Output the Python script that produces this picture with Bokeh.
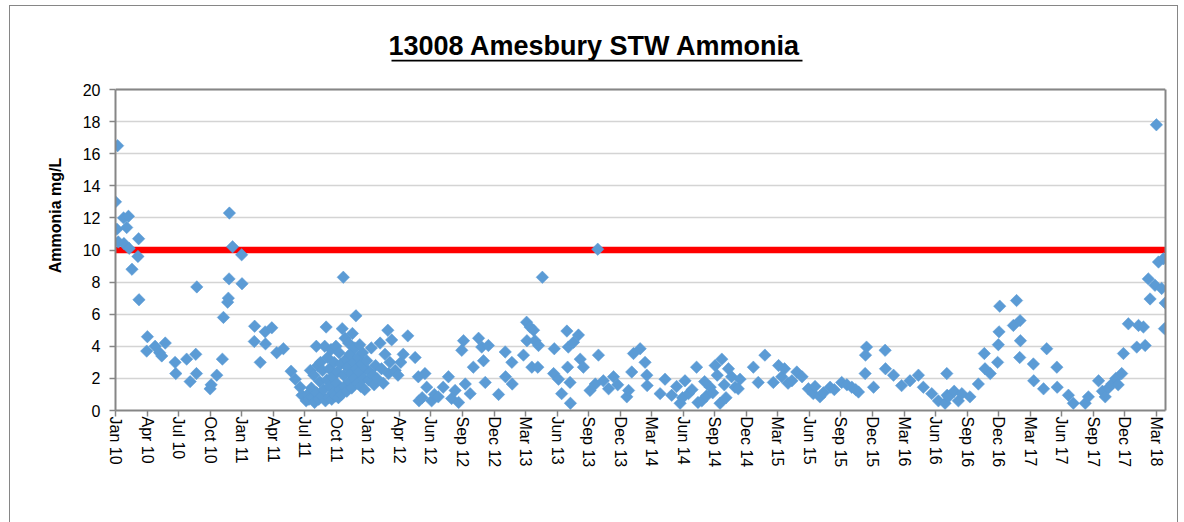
import numpy as np
import pandas as pd
from bokeh.plotting import figure
from bokeh.models import (Range1d, FixedTicker, DatetimeTickFormatter, Span,
                          BoxAnnotation, ColumnDataSource, Label, LinearAxis)
from bokeh.embed import file_html
from bokeh.resources import INLINE

# ---------------- data ----------------
sample_dates = [
    "2010-01-12", "2010-01-16", "2010-01-18", "2010-01-20", "2010-02-04", "2010-02-05",
    "2010-02-13", "2010-02-18", "2010-02-20", "2010-02-28", "2010-03-17", "2010-03-19",
    "2010-03-20", "2010-04-11", "2010-04-13", "2010-05-05", "2010-05-18", "2010-05-24",
    "2010-06-03", "2010-07-01", "2010-07-03", "2010-08-03", "2010-08-13", "2010-08-29",
    "2010-08-31", "2010-09-01", "2010-10-09", "2010-10-12", "2010-10-28", "2010-11-13",
    "2010-11-16", "2010-11-28", "2010-11-30", "2010-12-02", "2010-12-03", "2010-12-12",
    "2011-01-07", "2011-01-08", "2011-02-12", "2011-02-13", "2011-03-01", "2011-03-15",
    "2011-03-16", "2011-04-03", "2011-04-17", "2011-05-06", "2011-05-28", "2011-06-09",
    "2011-06-23", "2011-06-28",
    "2011-07-10", "2011-07-14", "2011-07-18", "2011-07-22", "2011-07-25", "2011-07-28",
    "2011-08-01", "2011-08-03", "2011-08-08", "2011-08-09", "2011-08-12", "2011-08-15",
    "2011-08-18", "2011-08-20", "2011-08-23", "2011-08-26", "2011-08-29", "2011-09-01",
    "2011-09-03", "2011-09-05", "2011-09-07", "2011-09-09", "2011-09-12", "2011-09-14",
    "2011-09-16", "2011-09-19", "2011-09-21", "2011-09-23", "2011-09-26", "2011-09-28",
    "2011-10-01", "2011-10-03", "2011-10-05", "2011-10-07", "2011-10-10", "2011-10-12",
    "2011-10-14", "2011-10-17", "2011-10-19", "2011-10-21", "2011-10-24", "2011-10-25",
    "2011-10-27", "2011-10-29", "2011-11-01", "2011-11-03", "2011-11-05", "2011-11-08",
    "2011-11-10", "2011-11-12", "2011-11-15", "2011-11-17", "2011-11-19", "2011-11-22",
    "2011-11-24", "2011-11-26", "2011-11-29", "2011-11-30", "2011-12-03", "2011-12-05",
    "2011-12-08", "2011-12-10", "2011-12-13", "2011-12-15", "2011-12-18", "2011-12-21",
    "2011-12-24", "2011-12-27", "2011-12-30", "2012-01-04", "2012-01-08", "2012-01-12",
    "2012-01-16", "2012-01-20", "2012-01-24",
    "2012-01-28", "2012-02-06", "2012-02-10", "2012-02-15", "2012-02-20", "2012-02-28",
    "2012-03-01", "2012-03-05", "2012-03-10", "2012-03-20", "2012-03-28", "2012-04-05",
    "2012-04-12", "2012-04-25", "2012-05-16", "2012-05-25", "2012-05-27", "2012-06-05",
    "2012-06-13", "2012-06-18", "2012-07-02", "2012-07-10", "2012-07-21", "2012-08-04",
    "2012-08-19", "2012-08-28", "2012-09-07", "2012-09-17", "2012-09-26", "2012-10-01",
    "2012-10-06", "2012-10-20", "2012-10-29", "2012-11-13", "2012-11-22", "2012-11-27",
    "2012-12-02", "2012-12-11", "2013-01-09", "2013-01-28", "2013-01-29", "2013-02-16",
    "2013-02-17", "2013-03-21", "2013-03-30", "2013-03-31", "2013-04-09", "2013-04-14",
    "2013-04-19", "2013-04-23", "2013-05-01", "2013-05-03", "2013-05-14", "2013-06-15",
    "2013-06-17", "2013-06-29", "2013-07-08", "2013-07-23", "2013-07-25", "2013-07-27",
    "2013-08-01", "2013-08-02", "2013-08-11", "2013-08-25", "2013-08-30", "2013-09-08",
    "2013-09-27", "2013-10-12", "2013-10-19", "2013-10-21", "2013-11-04", "2013-11-19",
    "2013-12-03", "2013-12-15", "2014-01-10", "2014-01-15", "2014-01-24", "2014-01-29",
    "2014-02-17", "2014-03-03", "2014-03-08", "2014-03-09", "2014-04-15", "2014-04-29",
    "2014-05-18", "2014-06-01", "2014-06-11", "2014-06-18", "2014-06-25", "2014-07-05",
    "2014-07-15", "2014-07-28", "2014-08-01", "2014-08-12", "2014-08-20", "2014-08-25",
    "2014-09-05", "2014-09-12", "2014-09-19", "2014-09-25", "2014-10-03", "2014-10-08",
    "2014-10-15", "2014-10-20", "2014-10-27", "2014-11-05", "2014-11-15", "2014-11-24",
    "2014-11-29", "2015-01-06", "2015-01-20", "2015-02-08", "2015-03-04", "2015-03-19",
    "2015-03-28", "2015-04-05", "2015-04-15", "2015-04-26", "2015-05-10", "2015-05-25",
    "2015-06-12", "2015-06-26", "2015-07-01", "2015-07-15", "2015-07-25", "2015-08-13",
    "2015-08-25", "2015-09-15", "2015-09-30", "2015-10-14", "2015-10-25", "2015-11-02",
    "2015-11-21", "2015-11-22", "2015-11-25", "2015-12-15", "2016-01-17", "2016-01-18",
    "2016-02-10", "2016-03-04", "2016-03-28", "2016-04-21", "2016-05-05", "2016-05-29",
    "2016-06-17", "2016-07-06", "2016-07-11", "2016-07-12", "2016-07-16", "2016-08-01",
    "2016-08-13", "2016-08-23", "2016-09-15", "2016-10-09", "2016-10-26", "2016-10-28",
    "2016-11-12", "2016-12-03", "2016-12-05", "2016-12-07", "2016-12-09", "2017-01-17",
    "2017-01-26", "2017-02-04", "2017-02-05", "2017-02-06", "2017-03-15", "2017-03-16",
    "2017-04-13", "2017-04-22", "2017-05-21", "2017-05-22", "2017-06-23", "2017-07-07",
    "2017-08-10", "2017-08-19", "2017-09-17", "2017-09-28", "2017-10-06", "2017-10-15",
    "2017-10-25", "2017-11-05", "2017-11-12", "2017-11-22", "2017-11-27", "2017-12-11",
    "2018-01-04", "2018-01-09", "2018-01-23", "2018-01-28", "2018-02-06", "2018-02-11",
    "2018-02-25", "2018-03-01", "2018-03-07", "2018-03-16", "2018-03-21", "2018-03-24",
    "2018-03-26",
]

ammonia_mg_l = [
    13.0, 11.3, 16.5, 10.5, 12.0, 10.4,
    11.4, 12.1, 10.1, 8.8, 9.6, 10.7,
    6.9, 3.7, 4.6, 4.0, 3.6, 3.4,
    4.2, 3.0, 2.3, 3.2, 1.8, 3.5,
    2.3, 7.7, 1.35, 1.6, 2.2, 3.2,
    5.8, 6.75, 7.0, 8.2, 12.3, 10.2,
    9.7, 7.9, 4.3, 5.25, 3.0, 4.9,
    4.15, 5.15, 3.6, 3.85, 2.45, 1.95,
    1.45, 0.95,
    0.6, 1.0, 0.7, 2.5, 1.4, 0.8,
    2.2, 0.5, 4.0, 1.1, 2.8, 0.7,
    1.8, 3.0, 0.9, 2.5, 1.3, 4.0,
    0.6, 5.2, 1.9, 3.3, 0.8, 2.6,
    1.5, 3.8, 0.7, 2.1, 1.1, 3.0,
    0.9, 4.0, 1.7, 2.4, 0.8, 3.6,
    1.3, 2.9, 1.0, 5.1, 8.3, 2.2,
    1.5, 4.5, 3.2, 1.2, 2.7, 4.2,
    1.8, 3.5, 2.3, 1.4, 4.8, 3.0,
    2.0, 3.9, 5.9, 2.6, 1.7, 3.3,
    2.4, 4.1, 1.5, 2.9, 3.6, 2.0,
    1.3, 2.6, 3.1, 1.9, 2.4, 3.9,
    2.2, 1.6, 2.8,
    2.0, 4.2, 2.6, 1.7, 3.5, 5.0,
    2.3, 3.0, 4.4, 2.5, 2.2, 3.0,
    3.5, 4.65, 3.3, 2.1, 0.6, 0.8,
    2.3, 1.45, 0.6, 1.0, 0.85, 1.45,
    2.1, 0.75, 1.25, 0.5, 3.75, 4.35,
    1.65, 1.05, 2.7, 4.5, 3.95, 3.1,
    1.75, 4.05, 1.0, 3.65, 2.1, 3.0,
    1.65, 3.45, 5.5, 4.35, 5.2, 2.7,
    5.0, 4.35, 2.7, 4.05, 8.3, 2.3,
    3.85, 1.95, 1.05, 4.95, 2.7, 3.95,
    1.75, 0.45, 4.25, 4.7, 3.2, 2.7,
    1.25, 1.65, 10.05, 3.45, 1.85, 1.35,
    2.1, 1.6, 0.85, 1.25, 2.4, 3.55,
    3.85, 3.0, 2.2, 1.55, 1.05, 1.95,
    0.95, 1.5, 0.45, 0.8, 1.85, 1.05,
    1.3, 2.7, 0.5, 0.6, 1.8, 0.9,
    1.45, 1.1, 2.8, 2.2, 0.45, 3.2,
    1.6, 0.8, 2.6, 2.1, 1.45, 1.35,
    1.95, 2.7, 1.75, 3.45, 1.75, 2.8,
    2.1, 2.6, 1.7, 1.85, 2.4, 2.1,
    1.35, 1.05, 1.5, 0.85, 1.1, 1.45,
    1.3, 1.75, 1.6, 1.45, 1.3, 1.15,
    2.3, 3.45, 3.95, 1.45, 3.75, 2.6,
    2.2, 1.55, 1.85, 2.2, 1.45, 1.05,
    0.6, 0.45, 2.3, 0.95, 0.85, 1.2,
    0.6, 1.05, 0.85, 1.65, 3.55, 2.6,
    2.3, 3.0, 4.1, 4.9, 6.5, 5.3,
    6.85, 3.3, 5.6, 4.35, 2.9, 1.85,
    1.35, 3.85, 2.7, 1.45, 0.95, 0.45,
    0.45, 0.85, 1.85, 1.2, 0.85, 1.4,
    1.65, 2.0, 1.6, 2.3, 3.55, 5.4,
    3.95, 5.3, 5.2, 4.05, 8.2, 6.95,
    7.8, 17.8, 9.25, 7.6, 9.45, 5.1,
    6.7,
]

consent_limit = 10.0
y_ticks = [0, 2, 4, 6, 8, 10, 12, 14, 16, 18, 20]
y_max = 20
axis_start = "2010-01-12"
axis_end = "2018-03-27"
tick_step_days = 90
tick_count = 34

title_text = "13008 Amesbury  STW Ammonia"
y_title = "Ammonia mg/L"

# ---------------- layout constants (pixels) ----------------
FONT = "Liberation Sans"
PLOT_W, PLOT_H = 1050, 321        # plot area (0..20 mg/L)
HEAD = 69                         # extra frame space above the plot area for the title
FRAME_H = PLOT_H + HEAD

df = pd.DataFrame({"date": pd.to_datetime(sample_dates), "nh3": ammonia_mg_l})
src = ColumnDataSource(df)

start = pd.Timestamp(axis_start)
end = pd.Timestamp(axis_end)
y_top = y_max * FRAME_H / PLOT_H

p = figure(frame_width=PLOT_W, frame_height=FRAME_H,
           min_border_left=115, min_border_right=19,
           min_border_top=20, min_border_bottom=112,
           x_axis_type="datetime",
           x_range=Range1d(start, end), y_range=Range1d(0, y_top),
           output_backend="svg", toolbar_location=None)

p.background_fill_color = "white"
p.border_fill_color = None
p.outline_line_color = None
# outer chart border (thin grey lines left / top / right)
g = "linear-gradient(#868686,#868686)"
p.styles = {"background": f"{g} 9px 5px/1px 600px no-repeat, {g} 9px 5px/1169px 1px no-repeat, "
                          f"{g} 1177px 5px/1px 600px no-repeat, white"}

# grid
p.xgrid.grid_line_color = None
p.ygrid.ticker = FixedTicker(ticks=y_ticks)
p.ygrid.grid_line_color = "#D4D4D4"
p.ygrid.grid_line_width = 1.5

# limit line (drawn beneath markers)
p.add_layout(Span(location=consent_limit, dimension="width", line_color="#FF0000",
                  line_width=6.5, level="underlay"))

# markers
p.scatter("date", "nh3", source=src, marker="square", size=8.8, angle=np.pi / 4,
          fill_color="#5B9BD5", line_color="#5B9BD5", line_width=0.5)

# plot-area top border
p.add_layout(Span(location=y_max, dimension="width", line_color="#868686", line_width=2))

# x axis
tick_ms = [(start + pd.Timedelta(days=tick_step_days * k)).value / 1e6 for k in range(tick_count)]
p.xaxis.ticker = FixedTicker(ticks=tick_ms)
fmt = "%b %y"
p.xaxis.formatter = DatetimeTickFormatter(
    microseconds=fmt, milliseconds=fmt, seconds=fmt, minsec=fmt, minutes=fmt,
    hourmin=fmt, hours=fmt, days=fmt, months=fmt, years=fmt, context=None)
p.xaxis.major_label_orientation = "vertical"
p.xaxis.major_label_standoff = 0

# y axis
p.yaxis.ticker = FixedTicker(ticks=y_ticks)
p.yaxis.bounds = (0, y_max)
p.yaxis.major_label_standoff = 9
p.yaxis.axis_label = y_title
p.yaxis.axis_label_text_font = FONT
p.yaxis.axis_label_text_font_size = "16px"
p.yaxis.axis_label_text_font_style = "bold"
p.yaxis.axis_label_text_color = "black"
p.yaxis.axis_label_standoff = 16

# right border of plot area
right = LinearAxis(bounds=(0, y_max), ticker=FixedTicker(ticks=[]),
                   major_label_text_font_size="0px", axis_line_color="#868686",
                   axis_line_width=2, major_tick_line_color=None, minor_tick_line_color=None)
p.add_layout(right, "right")

for ax in (p.xaxis, p.yaxis):
    ax.axis_line_color = "#868686"
    ax.axis_line_width = 2
    ax.major_tick_line_color = "#868686"
    ax.major_tick_line_width = 1.5
    ax.major_tick_out = 6
    ax.major_tick_in = 0
    ax.minor_tick_line_color = None
    ax.major_label_text_font = FONT
    ax.major_label_text_font_size = "16px"
    ax.major_label_text_color = "black"

# title (inside the frame head area) + underline
p.add_layout(Label(x=483, y=22.72, x_units="screen", y_units="data", text=title_text,
                   text_align="center", text_baseline="alphabetic",
                   text_font=FONT, text_font_size="27px", text_font_style="bold",
                   text_color="black"))
p.add_layout(BoxAnnotation(left=276, right=687, left_units="screen", right_units="screen",
                           top=21.86, bottom=21.74, fill_color="black", fill_alpha=1,
                           line_alpha=0))

open("out.html", "w").write(file_html(p, INLINE))
